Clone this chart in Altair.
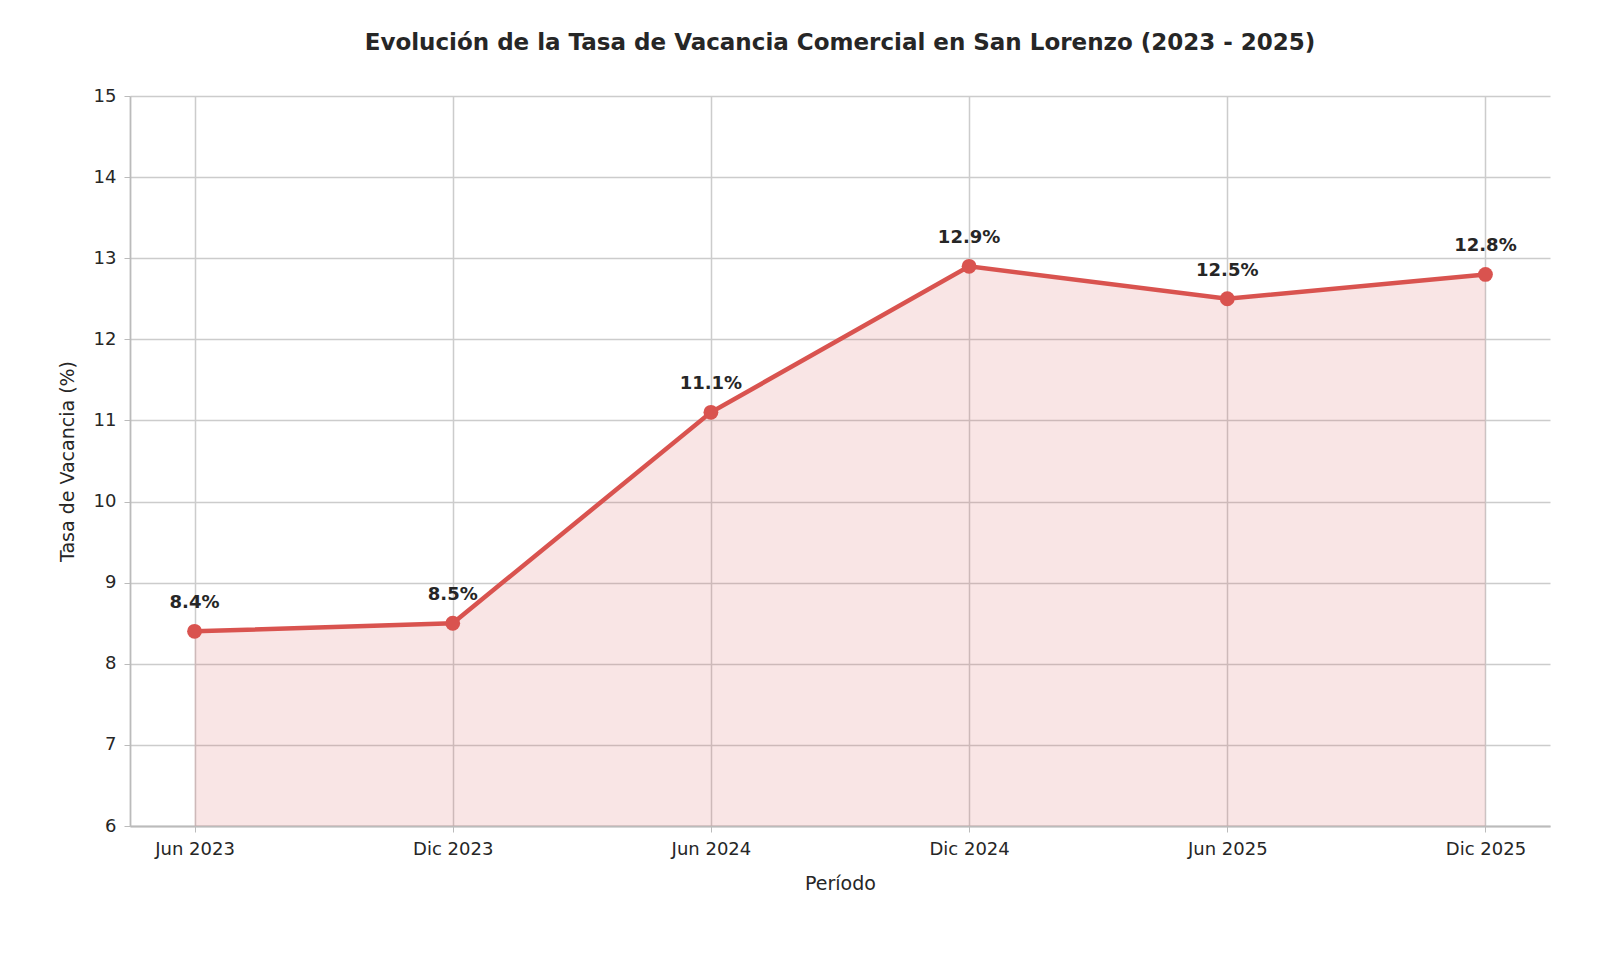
import altair as alt
import pandas as pd

periods = ["Jun 2023", "Dic 2023", "Jun 2024", "Dic 2024", "Jun 2025", "Dic 2025"]
rates = [8.4, 8.5, 11.1, 12.9, 12.5, 12.8]
labels = [f"{v:.1f}%" for v in rates]

df = pd.DataFrame({"Periodo": periods, "Tasa": rates, "Label": labels, "Base": 6})

line_color = "#d9534f"
font = "DejaVu Sans"

x_axis = alt.X(
    "Periodo:N",
    sort=periods,
    title="Período",
    scale=alt.Scale(type="point", padding=0.25),
    axis=alt.Axis(labelAngle=0, grid=True, tickSize=6, labelPadding=8, titlePadding=16),
)
y_scale = alt.Scale(domain=[6, 15], nice=False)

base = alt.Chart(df)

area = base.mark_area(color=line_color, opacity=0.15).encode(
    x=x_axis,
    y=alt.Y(
        "Tasa:Q",
        scale=y_scale,
        title="Tasa de Vacancia (%)",
        axis=alt.Axis(values=list(range(6, 16)), format="d", tickSize=6,
                      titlePadding=16, labelPadding=8),
    ),
    y2="Base:Q",
)

line = base.mark_line(color=line_color, strokeWidth=4.5).encode(
    x=x_axis, y=alt.Y("Tasa:Q", scale=y_scale)
)

points = base.mark_circle(color=line_color, size=220, opacity=1).encode(
    x=x_axis, y=alt.Y("Tasa:Q", scale=y_scale)
)

text = base.mark_text(
    dy=-28, fontSize=18, fontWeight="bold", color="#262626", font=font
).encode(x=x_axis, y=alt.Y("Tasa:Q", scale=y_scale), text="Label:N")

chart = (
    (area + line + points + text)
    .properties(
        width=1420,
        height=730,
        autosize=alt.AutoSizeParams(type="none"),
        padding={"left": 122, "top": 88, "right": 40, "bottom": 110},
        title=alt.TitleParams(
            "Evolución de la Tasa de Vacancia Comercial en San Lorenzo (2023 - 2025)",
            fontSize=23, fontWeight="bold", font=font, color="#262626", offset=32,
        ),
        background="white",
    )
    .configure_axis(
        labelFont=font, titleFont=font, labelFontSize=18, titleFontSize=19,
        labelColor="#262626", titleColor="#262626", titleFontWeight="normal",
        gridColor="#cccccc", gridWidth=1.5, domainColor="#bbbbbb", domainWidth=1.8,
        tickColor="#bbbbbb",
    )
    .configure_view(strokeWidth=0)
)

chart.save("out.html", embed_options={"renderer": "svg", "actions": False})
